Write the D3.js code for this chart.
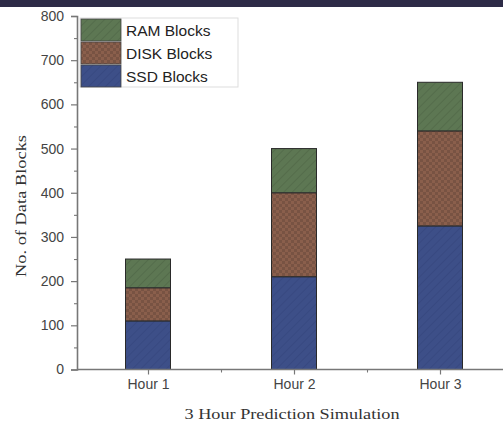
<!DOCTYPE html>
<html>
<head>
<meta charset="utf-8">
<script src="https://cdn.jsdelivr.net/npm/d3@7"></script>
<style>
  html, body { margin: 0; padding: 0; background: #fff; }
  svg { display: block; }
</style>
</head>
<body>
<svg id="chart" width="503" height="425"></svg>
<script>
// Stacked data blocks per simulated hour
const categories = ["Hour 1", "Hour 2", "Hour 3"];
const ssdBlocks  = [110, 210, 325];
const diskBlocks = [75, 190, 215];
const ramBlocks  = [65, 100, 110];
const seriesNames = ["SSD Blocks", "DISK Blocks", "RAM Blocks"];
const yTicks = [0, 100, 200, 300, 400, 500, 600, 700, 800];

const svg = d3.select("#chart");
const W = 503, H = 425;

// dark strip along the top edge
svg.append("rect").attr("x", 0).attr("y", 0).attr("width", W).attr("height", 7).attr("fill", "#2d2b47");

const defs = svg.append("defs");
function diag(id, bg, line) {
  const p = defs.append("pattern").attr("id", id).attr("patternUnits", "userSpaceOnUse")
    .attr("width", 6).attr("height", 6).attr("patternTransform", "rotate(45)");
  p.append("rect").attr("width", 6).attr("height", 6).attr("fill", bg);
  p.append("line").attr("x1", 0).attr("y1", 0).attr("x2", 0).attr("y2", 6)
    .attr("stroke", line).attr("stroke-width", 1.2);
}
diag("pSSD", "#3d4f88", "#34457c");
diag("pRAM", "#5d7753", "#4d6545");
{
  const p = defs.append("pattern").attr("id", "pDISK").attr("patternUnits", "userSpaceOnUse")
    .attr("width", 6).attr("height", 6);
  p.append("rect").attr("width", 6).attr("height", 6).attr("fill", "#785343");
  p.append("rect").attr("width", 3).attr("height", 3).attr("fill", "#8a5f4c");
  p.append("rect").attr("x", 3).attr("y", 3).attr("width", 3).attr("height", 3).attr("fill", "#8a5f4c");
}
const fills = ["url(#pSSD)", "url(#pDISK)", "url(#pRAM)"];

const x0 = 77, y0 = 369.5, yTop = 16;
const y = d3.scaleLinear().domain([0, 800]).range([y0, yTop]);
const x = d3.scaleLinear().domain([0.5, 3.5]).range([75, 513]);
const barW = 45;

const rows = categories.map((c, i) => ({ cat: c, i: i + 1, ssd: ssdBlocks[i], disk: diskBlocks[i], ram: ramBlocks[i] }));
const stack = d3.stack().keys(["ssd", "disk", "ram"])(rows);

svg.append("g").selectAll("g").data(stack).join("g")
  .attr("fill", (d, k) => fills[k])
  .selectAll("rect").data(d => d).join("rect")
  .attr("x", d => x(d.data.i) - barW / 2)
  .attr("width", barW)
  .attr("y", d => y(d[1]))
  .attr("height", d => y(d[0]) - y(d[1]))
  .attr("stroke", "#2a2a2a").attr("stroke-width", 1);

const axisCol = "#777";
const sans = "Liberation Sans, Arial, sans-serif";
const serif = "Liberation Serif, Times New Roman, serif";

// y axis
const yAxis = svg.append("g").attr("transform", `translate(${x0},0)`)
  .call(d3.axisLeft(y).tickValues(yTicks).tickSize(6).tickPadding(7));
yAxis.select(".domain").attr("stroke", axisCol).attr("stroke-width", 1.6);
yAxis.selectAll(".tick line").attr("stroke", axisCol).attr("stroke-width", 1.2);
yAxis.selectAll(".tick text").attr("font-family", sans)
  .attr("font-size", 14).attr("fill", "#444");
svg.append("g").attr("transform", `translate(${x0},0)`)
  .call(d3.axisLeft(y).tickValues(d3.range(50, 800, 100)).tickSize(3).tickFormat(""))
  .call(g => g.select(".domain").remove())
  .selectAll(".tick line").attr("stroke", axisCol).attr("stroke-width", 1.1);

// x axis
svg.append("line").attr("x1", x0).attr("x2", W).attr("y1", y0).attr("y2", y0)
  .attr("stroke", axisCol).attr("stroke-width", 1.6);
const xAxis = svg.append("g").attr("transform", `translate(0,${y0})`)
  .call(d3.axisBottom(x).tickValues([1, 2, 3]).tickSize(5).tickPadding(5).tickFormat(d => categories[d - 1]));
xAxis.select(".domain").remove();
xAxis.selectAll(".tick line").attr("stroke", axisCol).attr("stroke-width", 1.2);
xAxis.selectAll(".tick text").attr("font-family", sans)
  .attr("font-size", 14).attr("fill", "#444");
svg.append("g").attr("transform", `translate(0,${y0})`)
  .call(d3.axisBottom(x).tickValues([1.5, 2.5]).tickSize(3).tickFormat(""))
  .call(g => g.select(".domain").remove())
  .selectAll(".tick line").attr("stroke", axisCol).attr("stroke-width", 1.1);

// axis titles
svg.append("text").attr("transform", "translate(26,206) rotate(-90)")
  .attr("text-anchor", "middle").attr("font-family", serif)
  .attr("font-size", 15).attr("fill", "#333")
  .attr("textLength", 142).attr("lengthAdjust", "spacingAndGlyphs")
  .text("No. of Data Blocks");
svg.append("text").attr("x", 292).attr("y", 419)
  .attr("text-anchor", "middle").attr("font-family", serif)
  .attr("font-size", 15.5).attr("fill", "#333")
  .attr("textLength", 215).attr("lengthAdjust", "spacingAndGlyphs")
  .text("3 Hour Prediction Simulation");

// legend (RAM on top, SSD at bottom)
const lg = svg.append("g").attr("transform", "translate(80,18)");
lg.append("rect").attr("x", 0).attr("y", 0).attr("width", 158).attr("height", 69)
  .attr("fill", "#fff").attr("stroke", "#ddd").attr("stroke-width", 1);
[2, 1, 0].forEach((k, r) => {
  lg.append("rect").attr("x", 1).attr("y", 1 + r * 23).attr("width", 40).attr("height", 22)
    .attr("fill", fills[k]).attr("stroke", "#444").attr("stroke-width", 0.8);
  lg.append("text").attr("x", 46).attr("y", 1 + r * 23 + 17)
    .attr("font-family", sans).attr("font-size", 15.5)
    .attr("fill", "#222").text(seriesNames[k]);
});
</script>
</body>
</html>
